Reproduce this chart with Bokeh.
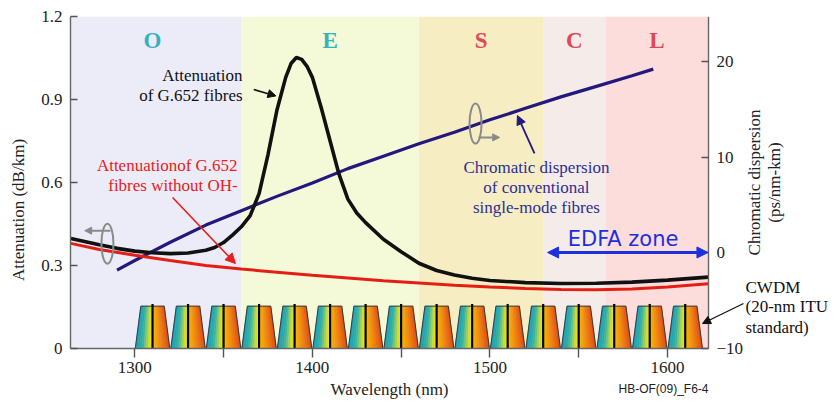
import math
from bokeh.plotting import figure
from bokeh.models import Range1d, LinearAxis, FixedTicker, Label, Arrow, NormalHead
from bokeh.embed import file_html
from bokeh.resources import INLINE

# ---------------- data ----------------
band_names = ["O", "E", "S", "C", "L"]
band_start = [1260, 1360, 1460, 1530, 1565]
band_end = [1360, 1460, 1530, 1565, 1623.1]

# Attenuation of G.652 fibres (dB/km)
wl_att = [1264, 1280, 1290, 1300, 1310, 1320, 1330, 1340, 1345, 1350, 1355, 1360,
          1365, 1370, 1375, 1380, 1385, 1388, 1391, 1394, 1397, 1400, 1405, 1410,
          1415, 1420, 1425, 1430, 1440, 1450, 1460, 1470, 1480, 1490, 1500, 1520,
          1540, 1560, 1580, 1600, 1623]
att_g652 = [0.398, 0.375, 0.362, 0.352, 0.346, 0.343, 0.345, 0.355, 0.365, 0.383, 0.41, 0.44,
            0.48, 0.56, 0.70, 0.86, 0.98, 1.03, 1.052, 1.045, 1.02, 0.98, 0.87, 0.75,
            0.63, 0.54, 0.49, 0.455, 0.395, 0.350, 0.308, 0.282, 0.266, 0.254, 0.246, 0.238,
            0.235, 0.236, 0.240, 0.247, 0.258]

# Attenuation of G.652 fibres without OH- (dB/km)
wl_oh = [1264, 1280, 1300, 1320, 1340, 1360, 1380, 1400, 1420, 1440, 1460, 1480,
         1500, 1520, 1540, 1560, 1580, 1600, 1623]
att_no_oh = [0.38, 0.358, 0.337, 0.318, 0.300, 0.287, 0.276, 0.265, 0.255, 0.245, 0.237, 0.229,
             0.222, 0.217, 0.213, 0.212, 0.215, 0.222, 0.234]

# Chromatic dispersion of conventional single-mode fibres (ps/nm-km)
wl_disp = [1290, 1300, 1320, 1340, 1360, 1380, 1400, 1420, 1440, 1460, 1480, 1500,
           1520, 1540, 1560, 1580, 1592]
dispersion = [-1.8, -0.8, 1.1, 2.9, 4.4, 5.9, 7.3, 8.8, 10.1, 11.4, 12.6, 13.9,
              15.1, 16.3, 17.4, 18.5, 19.2]

# CWDM channel centres (nm)
cwdm_centers = [1310, 1330, 1350, 1370, 1390, 1410, 1430, 1450,
                1470, 1490, 1510, 1530, 1550, 1570, 1590, 1610]

x_ticks = [1300, 1350, 1400, 1450, 1500, 1550, 1600]
x_tick_labels = ["1300", "", "1400", "", "1500", "", "1600"]
att_ticks = [0, 0.3, 0.6, 0.9, 1.2]
att_tick_labels = ["0", "0.3", "0.6", "0.9", "1.2"]
disp_ticks = [-10, 0, 10, 20]
disp_tick_labels = ["\u221210", "0", "10", "20"]

# plotted extent of the chart (wavelength nm, attenuation dB/km, dispersion ps/nm-km)
X_MIN, X_MAX = 1263.8, 1623.1
ATT_MIN, ATT_MAX = 0.0, 1.2
DISP_MIN, DISP_MAX = -10.0, 24.7

# ---------------- layout / styles ----------------
W, H = 833, 403
LEFT, TOP, RIGHT_AX, BOTTOM_AX = 70, 16, 708, 348       # pixel box of the chart area
px_per_nm = (RIGHT_AX - LEFT) / (X_MAX - X_MIN)
px_per_att = (BOTTOM_AX - TOP) / (ATT_MAX - ATT_MIN)
px_per_disp = (BOTTOM_AX - TOP) / (DISP_MAX - DISP_MIN)
xr = Range1d(X_MIN, X_MAX + (W - RIGHT_AX) / px_per_nm)
yr = Range1d(ATT_MIN - (H - BOTTOM_AX) / px_per_att, ATT_MAX)
dr = Range1d(DISP_MIN - (H - BOTTOM_AX) / px_per_disp, DISP_MAX)

band_colors = ["#ececf8", "#f4fad8", "#f7edc2", "#f5ebe8", "#fcdddb"]
band_label_colors = ["#35b2bc", "#35b2bc", "#e0485a", "#e0485a", "#e0485a"]
SERIF = "Liberation Serif"

p = figure(width=W, height=H, x_range=xr, y_range=yr,
           output_backend="svg", toolbar_location=None,
           min_border_left=LEFT, min_border_right=0, min_border_top=TOP, min_border_bottom=0)
p.extra_y_ranges = {"disp": dr}
p.outline_line_color = None
p.xgrid.visible = False
p.ygrid.visible = False
p.background_fill_color = "white"

# bands
p.quad(left=band_start, right=band_end, bottom=ATT_MIN, top=ATT_MAX, fill_color=band_colors, line_color=None)
for name, s, e, c in zip(band_names, band_start, band_end, band_label_colors):
    p.add_layout(Label(x=(s + e) / 2, y=1.113, text=name, text_align="center", text_baseline="middle",
                       text_font=SERIF, text_font_style="bold", text_font_size="23px", text_color=c))

# CWDM filter trapezoids with gradient strips
stops = [(0.0, (20, 158, 192)), (0.2, (48, 176, 160)), (0.35, (160, 208, 96)), (0.45, (240, 232, 0)),
         (0.55, (248, 176, 0)), (0.72, (240, 140, 16)), (0.87, (232, 106, 16)), (1.0, (222, 74, 16))]


def grad(f):
    for (f0, c0), (f1, c1) in zip(stops[:-1], stops[1:]):
        if f0 <= f <= f1:
            t = (f - f0) / (f1 - f0)
            return "#%02x%02x%02x" % tuple(int(round(a + (b - a) * t)) for a, b in zip(c0, c1))
    return "#%02x%02x%02x" % stops[-1][1]


hb, ht, h = 9.7, 6.6, 0.153
N = 16
xs, ys, cols, oxs, oys = [], [], [], [], []
for c in cwdm_centers:
    for i in range(N):
        f0, f1 = i / N, (i + 1) / N
        bx0, bx1 = c - hb + 2 * hb * f0, c - hb + 2 * hb * f1
        tx0, tx1 = c - ht + 2 * ht * f0, c - ht + 2 * ht * f1
        xs.append([bx0, bx1, tx1, tx0])
        ys.append([0, 0, h, h])
        cols.append(grad((f0 + f1) / 2))
    oxs.append([c - hb, c + hb, c + ht, c - ht])
    oys.append([0, 0, h, h])
p.patches(xs, ys, fill_color=cols, line_color=cols, line_width=0.6)
p.patches(oxs, oys, fill_color=None, line_color="#3a3a3a", line_width=1)
p.segment(x0=cwdm_centers, y0=0, x1=cwdm_centers, y1=0.161, line_color="black", line_width=2.2)

# curves
p.line(wl_disp, dispersion, y_range_name="disp", line_color="#22187e", line_width=3.2)
p.line(wl_oh, att_no_oh, line_color="#e41e14", line_width=3)
p.line(wl_att, att_g652, line_color="#111111", line_width=3.6)

# axes
p.xaxis.fixed_location = ATT_MIN
p.xaxis.bounds = (X_MIN, X_MAX)
p.xaxis.ticker = FixedTicker(ticks=x_ticks)
p.xaxis.major_label_overrides = dict(zip(x_ticks, x_tick_labels))
p.xaxis.axis_label = "Wavelength (nm)"
p.xaxis.major_tick_in = 0
p.xaxis.major_tick_out = 9
p.xaxis.minor_tick_line_color = None
p.xaxis.major_label_standoff = 4
p.xaxis.axis_label_standoff = 4

p.yaxis.bounds = (ATT_MIN, ATT_MAX)
p.yaxis.ticker = FixedTicker(ticks=att_ticks)
p.yaxis.major_label_overrides = dict(zip(att_ticks, att_tick_labels))
p.yaxis.axis_label = "Attenuation (dB/km)"
p.yaxis.major_tick_in = 7
p.yaxis.major_tick_out = 0
p.yaxis.minor_tick_line_color = None
p.yaxis.major_label_standoff = 8
p.yaxis.axis_label_standoff = 10

raxis = LinearAxis(y_range_name="disp", ticker=FixedTicker(ticks=disp_ticks),
                   major_label_overrides=dict(zip(disp_ticks, disp_tick_labels)),
                   fixed_location=X_MAX, bounds=(DISP_MIN, DISP_MAX))
raxis.major_tick_in = 7
raxis.major_tick_out = 0
raxis.minor_tick_line_color = None
raxis.major_label_standoff = 8
p.add_layout(raxis, "right")

for ax in [p.xaxis[0], p.yaxis[0], raxis]:
    ax.axis_line_color = "#666666"
    ax.axis_line_width = 1.4
    ax.major_tick_line_color = "#555555"
    ax.major_tick_line_width = 1.4
    ax.major_label_text_font = SERIF
    ax.major_label_text_font_size = "17px"
    ax.major_label_text_color = "#222222"
    ax.axis_label_text_font = SERIF
    ax.axis_label_text_font_size = "17px"
    ax.axis_label_text_font_style = "normal"
    ax.axis_label_text_color = "#222222"


def xd(px):
    return X_MIN + (px - LEFT) / px_per_nm


def yd(py):
    return ATT_MIN + (BOTTOM_AX - py) / px_per_att


def lab(x, y, text, color="#111111", align="left", font=SERIF, size="17px", angle=0.0):
    p.add_layout(Label(x=x, y=y, text=text, text_align=align, text_baseline="middle", angle=angle,
                       text_font=font, text_font_size=size, text_color=color))


def arrow(x0, y0, x1, y1, color, width=1.6, size=9, both=False):
    kw = dict(end=NormalHead(size=size, fill_color=color, line_color=color),
              x_start=x0, y_start=y0, x_end=x1, y_end=y1, line_color=color, line_width=width)
    kw["start"] = NormalHead(size=size, fill_color=color, line_color=color) if both else None
    p.add_layout(Arrow(**kw))


# annotations
lab(1360.7, 0.987, "Attenuation", align="right")
lab(1360.7, 0.914, "of G.652 fibres", align="right")
arrow(1367.0, 0.936, 1379.5, 0.913, "#111111", width=1.6, size=8)

lab(1357.9, 0.661, "Attenuationof G.652", color="#e8201a", align="right")
lab(1357.9, 0.589, "fibres without OH-", color="#e8201a", align="right")
arrow(1321.3, 0.546, 1356.7, 0.307, "#e8201a", width=1.6, size=10)

blue_txt = "#2e2e94"
lab(1526.2, 0.654, "Chromatic dispersion", color=blue_txt, align="center")
lab(1526.2, 0.582, "of conventional", color=blue_txt, align="center")
lab(1526.2, 0.510, "single-mode fibres", color=blue_txt, align="center")
arrow(1525.1, 0.705, 1515.5, 0.842, "#22187e", width=1.8, size=9)

# axis-assignment ellipses
p.ellipse(x=[1491.9, 1284.6], y=[0.813, 0.379], width=12, height=40,
          width_units="screen", height_units="screen", fill_color=None,
          line_color="#8a8a8a", line_width=2)
arrow(1493.6, 0.763, 1505.5, 0.763, "#8a8a8a", width=2, size=7)
arrow(1286.3, 0.426, 1271.8, 0.426, "#8a8a8a", width=2, size=7)

# EDFA zone
lab(1543.8, 0.394, "EDFA zone", color="#1c30e0", font="DejaVu Sans", size="21px")
arrow(1532.5, 0.347, 1622.8, 0.347, "#1c30e0", width=3, size=11, both=True)

# right axis title (two lines, reading upwards)
lab(xd(754), yd(182), "Chromatic dispersion", align="center", angle=math.pi / 2, color="#222222")
lab(xd(774), yd(182), "(ps/nm-km)", align="center", angle=math.pi / 2, color="#222222")

# CWDM
lab(xd(745), yd(287), "CWDM")
lab(xd(745), yd(306), "(20-nm ITU")
lab(xd(745), yd(327), "standard)")
arrow(xd(743), yd(303), xd(702), yd(323), "#111111", width=1.3, size=8)

lab(X_MAX, yd(388), "HB-OF(09)_F6-4", color="#222222", align="right", font="Liberation Sans", size="12px")

open("out.html", "w").write(file_html(p, INLINE))
